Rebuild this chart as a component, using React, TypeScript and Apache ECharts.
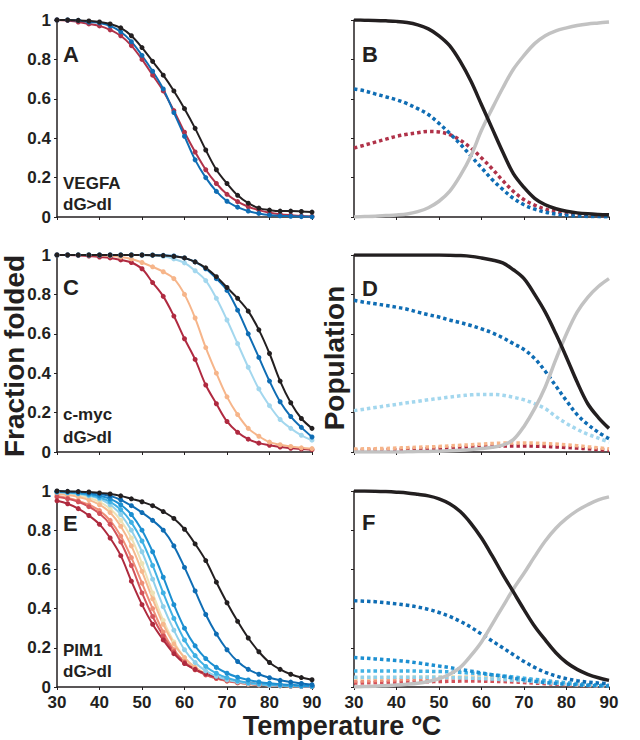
import React, { useEffect, useRef } from 'react';
import * as echarts from 'echarts';

// ---------- data ----------
const temps = [30, 32.5, 35, 37.5, 40, 42.5, 45, 47.5, 50, 52.5, 55, 57.5, 60, 62.5, 65, 67.5, 70, 72.5, 75, 77.5, 80, 82.5, 85, 87.5, 90];
const xTicks = [30, 40, 50, 60, 70, 80, 90];
const yTickLabels = ['0', '0.2', '0.4', '0.6', '0.8', '1'];

// Panel A (VEGFA, fraction folded)
const aBlack = [1.0, 1.0, 0.998, 0.995, 0.99, 0.98, 0.96, 0.92, 0.86, 0.79, 0.72, 0.64, 0.55, 0.45, 0.34, 0.24, 0.17, 0.11, 0.07, 0.045, 0.035, 0.03, 0.03, 0.028, 0.025];
const aRed = [1.0, 0.998, 0.99, 0.98, 0.97, 0.95, 0.92, 0.87, 0.8, 0.72, 0.64, 0.54, 0.43, 0.33, 0.24, 0.17, 0.115, 0.078, 0.052, 0.035, 0.022, 0.014, 0.009, 0.005, 0.003];
const aBlue = [1.0, 1.0, 0.998, 0.99, 0.985, 0.97, 0.94, 0.89, 0.82, 0.74, 0.65, 0.53, 0.41, 0.29, 0.2, 0.13, 0.08, 0.05, 0.03, 0.018, 0.01, 0.006, 0.004, 0.002, 0.001];

// Panel B (VEGFA, population)
const bBlack = [1.0, 0.999, 0.998, 0.996, 0.993, 0.987, 0.975, 0.955, 0.92, 0.87, 0.79, 0.69, 0.57, 0.45, 0.33, 0.22, 0.15, 0.095, 0.062, 0.042, 0.029, 0.021, 0.016, 0.013, 0.011];
const bGrey = [0.0, 0.002, 0.004, 0.007, 0.01, 0.015, 0.027, 0.047, 0.08, 0.13, 0.21, 0.31, 0.44, 0.55, 0.655, 0.75, 0.82, 0.88, 0.92, 0.945, 0.96, 0.972, 0.98, 0.985, 0.99];
const bBlue = [0.65, 0.64, 0.625, 0.61, 0.595, 0.575, 0.55, 0.52, 0.475, 0.425, 0.37, 0.31, 0.25, 0.19, 0.14, 0.095, 0.062, 0.04, 0.025, 0.015, 0.009, 0.005, 0.003, 0.002, 0.001];
const bRed = [0.35, 0.365, 0.38, 0.395, 0.41, 0.42, 0.428, 0.434, 0.432, 0.418, 0.39, 0.35, 0.3, 0.245, 0.185, 0.13, 0.088, 0.06, 0.04, 0.028, 0.018, 0.012, 0.008, 0.005, 0.003];

// Panel C (c-myc, fraction folded)
const cBlack = [1, 1, 1, 1, 1, 1, 1, 1, 1, 0.999, 0.997, 0.993, 0.985, 0.965, 0.935, 0.89, 0.835, 0.78, 0.715, 0.62, 0.5, 0.36, 0.25, 0.17, 0.12];
const cBlue = [1, 1, 1, 1, 1, 1, 1, 1, 1, 1, 0.998, 0.995, 0.985, 0.965, 0.93, 0.88, 0.82, 0.72, 0.6, 0.48, 0.36, 0.255, 0.18, 0.125, 0.076];
const cLight = [1, 1, 1, 1, 1, 1, 1, 1, 1, 0.998, 0.993, 0.98, 0.96, 0.92, 0.87, 0.78, 0.67, 0.55, 0.43, 0.32, 0.235, 0.165, 0.12, 0.085, 0.06];
const cOrange = [1, 1, 1, 1, 0.999, 0.996, 0.99, 0.98, 0.962, 0.94, 0.915, 0.88, 0.8, 0.68, 0.53, 0.4, 0.28, 0.19, 0.12, 0.08, 0.05, 0.037, 0.028, 0.021, 0.017];
const cRed = [1, 1, 0.998, 0.995, 0.99, 0.985, 0.975, 0.962, 0.93, 0.86, 0.79, 0.69, 0.575, 0.47, 0.34, 0.245, 0.155, 0.1, 0.065, 0.045, 0.034, 0.025, 0.019, 0.015, 0.012];

// Panel D (c-myc, population)
const dBlack = [1, 1, 1, 1, 1, 1, 1, 1, 1, 0.999, 0.997, 0.993, 0.985, 0.975, 0.96, 0.925, 0.88, 0.8, 0.71, 0.6, 0.48, 0.355, 0.245, 0.175, 0.12];
const dGrey = [0, 0, 0, 0, 0, 0.001, 0.002, 0.003, 0.004, 0.006, 0.009, 0.013, 0.018, 0.024, 0.035, 0.063, 0.13, 0.22, 0.33, 0.47, 0.6, 0.71, 0.785, 0.84, 0.88];
const dBlue = [0.77, 0.76, 0.752, 0.744, 0.735, 0.725, 0.71, 0.697, 0.685, 0.67, 0.657, 0.642, 0.625, 0.605, 0.58, 0.55, 0.52, 0.475, 0.41, 0.335, 0.26, 0.19, 0.14, 0.1, 0.068];
const dLight = [0.21, 0.218, 0.226, 0.234, 0.242, 0.25, 0.257, 0.265, 0.272, 0.279, 0.285, 0.29, 0.292, 0.292, 0.288, 0.278, 0.265, 0.245, 0.22, 0.18, 0.145, 0.115, 0.09, 0.07, 0.05];
const dOrange = [0.015, 0.016, 0.017, 0.018, 0.02, 0.022, 0.024, 0.026, 0.028, 0.031, 0.034, 0.037, 0.04, 0.043, 0.045, 0.046, 0.046, 0.045, 0.043, 0.04, 0.036, 0.032, 0.027, 0.021, 0.016];
const dRed = [0.008, 0.009, 0.01, 0.011, 0.012, 0.013, 0.015, 0.017, 0.019, 0.021, 0.023, 0.025, 0.027, 0.029, 0.03, 0.031, 0.031, 0.03, 0.028, 0.026, 0.023, 0.02, 0.016, 0.012, 0.009];

// Panel E (PIM1, fraction folded)
const eBlack = [1, 0.998, 0.997, 0.995, 0.99, 0.985, 0.975, 0.96, 0.945, 0.925, 0.895, 0.86, 0.805, 0.73, 0.645, 0.535, 0.43, 0.335, 0.25, 0.18, 0.125, 0.09, 0.065, 0.048, 0.037];
const eDarkBlue = [0.998, 0.997, 0.995, 0.99, 0.985, 0.975, 0.955, 0.925, 0.89, 0.85, 0.8, 0.72, 0.61, 0.49, 0.37, 0.27, 0.19, 0.13, 0.09, 0.065, 0.047, 0.034, 0.025, 0.018, 0.012];
const eMedBlue = [0.997, 0.995, 0.99, 0.985, 0.975, 0.96, 0.93, 0.88, 0.8, 0.69, 0.56, 0.42, 0.3, 0.21, 0.145, 0.1, 0.07, 0.05, 0.036, 0.026, 0.019, 0.014, 0.011, 0.008, 0.006];
const eCyan = [0.995, 0.992, 0.987, 0.98, 0.967, 0.945, 0.905, 0.84, 0.745, 0.62, 0.48, 0.35, 0.24, 0.16, 0.105, 0.07, 0.047, 0.032, 0.022, 0.016, 0.011, 0.008, 0.006, 0.004, 0.003];
const eLightBlue = [0.995, 0.99, 0.985, 0.975, 0.96, 0.93, 0.88, 0.8, 0.69, 0.55, 0.41, 0.29, 0.19, 0.125, 0.082, 0.055, 0.037, 0.026, 0.018, 0.013, 0.009, 0.007, 0.005, 0.004, 0.003];
const eCream = [0.99, 0.985, 0.978, 0.965, 0.945, 0.91, 0.85, 0.76, 0.63, 0.48, 0.34, 0.23, 0.15, 0.098, 0.065, 0.044, 0.03, 0.021, 0.015, 0.011, 0.008, 0.006, 0.004, 0.003, 0.002];
const ePeach = [0.985, 0.98, 0.97, 0.955, 0.93, 0.89, 0.82, 0.72, 0.59, 0.45, 0.32, 0.22, 0.15, 0.1, 0.068, 0.047, 0.033, 0.023, 0.016, 0.012, 0.009, 0.006, 0.005, 0.004, 0.003];
const eSalmon = [0.975, 0.965, 0.95, 0.93, 0.9, 0.85, 0.77, 0.66, 0.53, 0.4, 0.28, 0.19, 0.13, 0.09, 0.062, 0.043, 0.03, 0.021, 0.015, 0.011, 0.008, 0.006, 0.004, 0.003, 0.002];
const eRed = [0.97, 0.96, 0.945, 0.92, 0.885, 0.83, 0.74, 0.62, 0.48, 0.36, 0.26, 0.18, 0.125, 0.088, 0.062, 0.044, 0.032, 0.023, 0.017, 0.012, 0.009, 0.007, 0.005, 0.004, 0.003];
const eDarkRed = [0.95, 0.935, 0.91, 0.875, 0.83, 0.76, 0.67, 0.54, 0.42, 0.32, 0.24, 0.17, 0.12, 0.09, 0.068, 0.05, 0.038, 0.028, 0.02, 0.015, 0.011, 0.008, 0.006, 0.004, 0.003];

// Panel F (PIM1, population)
const fBlack = [1, 1, 0.999, 0.997, 0.994, 0.99, 0.983, 0.975, 0.96, 0.935, 0.895, 0.835, 0.76, 0.67, 0.575, 0.485, 0.395, 0.31, 0.24, 0.175, 0.125, 0.09, 0.065, 0.047, 0.034];
const fGrey = [0, 0.002, 0.004, 0.007, 0.01, 0.014, 0.019, 0.028, 0.042, 0.065, 0.1, 0.16, 0.23, 0.32, 0.41, 0.5, 0.58, 0.665, 0.745, 0.81, 0.86, 0.9, 0.93, 0.955, 0.97];
const fBlue = [0.44, 0.438, 0.435, 0.43, 0.424, 0.417, 0.408, 0.396, 0.38, 0.36, 0.335, 0.305, 0.27, 0.235, 0.2, 0.165, 0.13, 0.1, 0.075, 0.056, 0.042, 0.032, 0.025, 0.02, 0.017];
const fMed = [0.15, 0.147, 0.143, 0.139, 0.135, 0.13, 0.123, 0.115, 0.107, 0.099, 0.09, 0.081, 0.072, 0.063, 0.055, 0.045, 0.037, 0.029, 0.023, 0.018, 0.014, 0.011, 0.008, 0.006, 0.005];
const fCyan = [0.082, 0.082, 0.082, 0.082, 0.082, 0.082, 0.081, 0.08, 0.079, 0.077, 0.074, 0.071, 0.067, 0.062, 0.057, 0.051, 0.045, 0.039, 0.033, 0.027, 0.022, 0.017, 0.013, 0.01, 0.008];
const fLight = [0.05, 0.05, 0.05, 0.05, 0.05, 0.05, 0.05, 0.05, 0.049, 0.048, 0.047, 0.045, 0.043, 0.041, 0.038, 0.035, 0.032, 0.028, 0.024, 0.02, 0.016, 0.013, 0.01, 0.008, 0.006];
const fCream = [0.045, 0.046, 0.047, 0.048, 0.049, 0.05, 0.051, 0.052, 0.052, 0.052, 0.051, 0.05, 0.048, 0.045, 0.042, 0.038, 0.034, 0.029, 0.024, 0.02, 0.016, 0.012, 0.009, 0.007, 0.005];
const fSalmon = [0.03, 0.031, 0.033, 0.035, 0.037, 0.039, 0.041, 0.043, 0.045, 0.047, 0.049, 0.05, 0.05, 0.049, 0.047, 0.044, 0.04, 0.035, 0.03, 0.025, 0.02, 0.016, 0.012, 0.009, 0.007];
const fRed = [0.02, 0.021, 0.022, 0.023, 0.024, 0.025, 0.026, 0.027, 0.028, 0.029, 0.03, 0.03, 0.03, 0.029, 0.028, 0.026, 0.023, 0.02, 0.017, 0.014, 0.011, 0.009, 0.007, 0.005, 0.004];

const panelLetters = ['A', 'B', 'C', 'D', 'E', 'F'];
const geneNames = ['VEGFA', 'c-myc', 'PIM1'];
const mutationLabel = 'dG>dI';

// ---------- styling ----------
const FONT = "'Liberation Sans', Arial, Helvetica, sans-serif";
const INK = '#231f20';
const C = {
  black: '#231f20',
  grey: '#c2c2c2',
  blue: '#0f6db4',
  red: '#b03249',
  lightBlue: '#a3d7ee',
  orange: '#f6b58a',
  cRed: '#b02a40',
  medBlue: '#1c8fd1',
  cyan: '#40b1e4',
  eLight: '#8fd0ea',
  cream: '#ede2b6',
  peach: '#f6b88d',
  salmon: '#ee8e77',
  eRed: '#d3525a',
  darkRed: '#ae2a3e',
};

const grids = [
  { left: 57, top: 20, width: 255, height: 197 },
  { left: 354, top: 20, width: 255, height: 197 },
  { left: 57, top: 255, width: 255, height: 197 },
  { left: 354, top: 255, width: 255, height: 197 },
  { left: 57, top: 491, width: 255, height: 196 },
  { left: 354, top: 491, width: 255, height: 196 },
];

const pts = (vals: number[]) => temps.map((t, i) => [t, vals[i]]);

function fitLine(panel: number, vals: number[], color: string) {
  return {
    type: 'line', xAxisIndex: panel, yAxisIndex: panel, data: pts(vals),
    smooth: 0.35, symbol: 'circle', symbolSize: 5, showSymbol: true,
    lineStyle: { color, width: 2 }, itemStyle: { color, borderWidth: 0 },
    silent: true,
  };
}
function solidLine(panel: number, vals: number[], color: string) {
  return {
    type: 'line', xAxisIndex: panel, yAxisIndex: panel, data: pts(vals),
    smooth: 0.35, symbol: 'none', lineStyle: { color, width: 3.5 }, silent: true,
  };
}
function dotLine(panel: number, vals: number[], color: string) {
  return {
    type: 'line', xAxisIndex: panel, yAxisIndex: panel, data: pts(vals),
    smooth: 0.35, symbol: 'none', lineStyle: { color, width: 3.5, type: [3.5, 3], cap: 'butt' }, silent: true,
  };
}

// y is the text baseline; converted to a middle anchor
function text(txt: string, x: number, baseline: number, size: number, extra: any = {}) {
  const { style, ...rest } = extra;
  return {
    type: 'text', x, y: baseline - 0.35 * size, silent: true, ...rest,
    style: { text: txt, font: `bold ${size}px ${FONT}`, fill: INK, align: 'left', verticalAlign: 'middle', ...(style || {}) },
  };
}

export default function App() {
  const ref = useRef<HTMLDivElement>(null);
  useEffect(() => {
    document.body.style.margin = '0';
    const chart = echarts.init(ref.current!, null, { renderer: 'svg' });
    const xAxis = grids.map((_, i) => ({
      gridIndex: i, type: 'value', min: xTicks[0], max: xTicks[xTicks.length - 1], interval: 10,
      axisLine: { show: true, onZero: false, lineStyle: { color: INK, width: 1.5 } },
      axisTick: { show: true, length: 3, lineStyle: { color: INK, width: 1 } },
      axisLabel: { show: i >= 4, fontSize: 17, fontWeight: 'bold', color: INK, margin: 7, fontFamily: FONT },
      splitLine: { show: false },
    }));
    const yAxis = grids.map((_, i) => ({
      gridIndex: i, type: 'value', min: 0, max: 1, interval: 0.2,
      axisLine: { show: true, onZero: false, lineStyle: { color: INK, width: 1.5 } },
      axisTick: { show: true, length: 3, lineStyle: { color: INK, width: 1 } },
      axisLabel: {
        show: i % 2 === 0, fontSize: 17, fontWeight: 'bold', color: INK, margin: 6, fontFamily: FONT,
        formatter: (v: number) => yTickLabels[Math.round(v * 5)],
      },
      splitLine: { show: false },
    }));

    const series = [
      // A
      fitLine(0, aRed, C.red), fitLine(0, aBlue, C.blue), fitLine(0, aBlack, C.black),
      // B
      dotLine(1, bRed, C.red), dotLine(1, bBlue, C.blue), solidLine(1, bGrey, C.grey), solidLine(1, bBlack, C.black),
      // C
      fitLine(2, cRed, C.cRed), fitLine(2, cOrange, C.orange), fitLine(2, cLight, C.lightBlue), fitLine(2, cBlue, C.blue), fitLine(2, cBlack, C.black),
      // D
      dotLine(3, dRed, C.cRed), dotLine(3, dOrange, C.orange), dotLine(3, dLight, C.lightBlue), dotLine(3, dBlue, C.blue),
      solidLine(3, dGrey, C.grey), solidLine(3, dBlack, C.black),
      // E
      fitLine(4, eCream, C.cream), fitLine(4, ePeach, C.peach), fitLine(4, eSalmon, C.salmon), fitLine(4, eRed, C.eRed), fitLine(4, eDarkRed, C.darkRed),
      fitLine(4, eLightBlue, C.eLight), fitLine(4, eCyan, C.cyan), fitLine(4, eMedBlue, C.medBlue), fitLine(4, eDarkBlue, C.blue), fitLine(4, eBlack, C.black),
      // F
      dotLine(5, fRed, C.eRed), dotLine(5, fSalmon, C.salmon), dotLine(5, fCream, C.cream), dotLine(5, fLight, C.eLight),
      dotLine(5, fCyan, C.cyan), dotLine(5, fMed, C.medBlue), dotLine(5, fBlue, C.blue),
      solidLine(5, fGrey, C.grey), solidLine(5, fBlack, C.black),
    ];

    const graphic = [
      text(panelLetters[0], 63, 62, 22), text(panelLetters[1], 362, 62, 22),
      text(panelLetters[2], 63, 295, 22), text(panelLetters[3], 362, 296, 22),
      text(panelLetters[4], 63, 531, 22), text(panelLetters[5], 362, 530, 22),
      text(geneNames[0], 63, 189, 17), text(mutationLabel, 63, 210, 17),
      text(geneNames[1], 63, 420, 17), text(mutationLabel, 63, 443, 17),
      text(geneNames[2], 63, 656, 17), text(mutationLabel, 63, 677, 17),
      { type: 'text', x: 14, y: 356, rotation: Math.PI / 2, silent: true,
        style: { text: 'Fraction folded', font: `bold 28px ${FONT}`, fill: INK, align: 'center', verticalAlign: 'middle' } },
      { type: 'text', x: 334, y: 358, rotation: Math.PI / 2, silent: true,
        style: { text: 'Population', font: `bold 28px ${FONT}`, fill: INK, align: 'center', verticalAlign: 'middle' } },
      { type: 'text', x: 342, y: 726, silent: true,
        style: { text: 'Temperature ºC', font: `bold 27px ${FONT}`, fill: INK, align: 'center', verticalAlign: 'middle' } },
    ];

    chart.setOption({
      animation: false,
      backgroundColor: '#ffffff',
      grid: grids,
      xAxis, yAxis, series, graphic,
    });
    return () => chart.dispose();
  }, []);
  return <div ref={ref} style={{ width: 640, height: 740 }} />;
}
